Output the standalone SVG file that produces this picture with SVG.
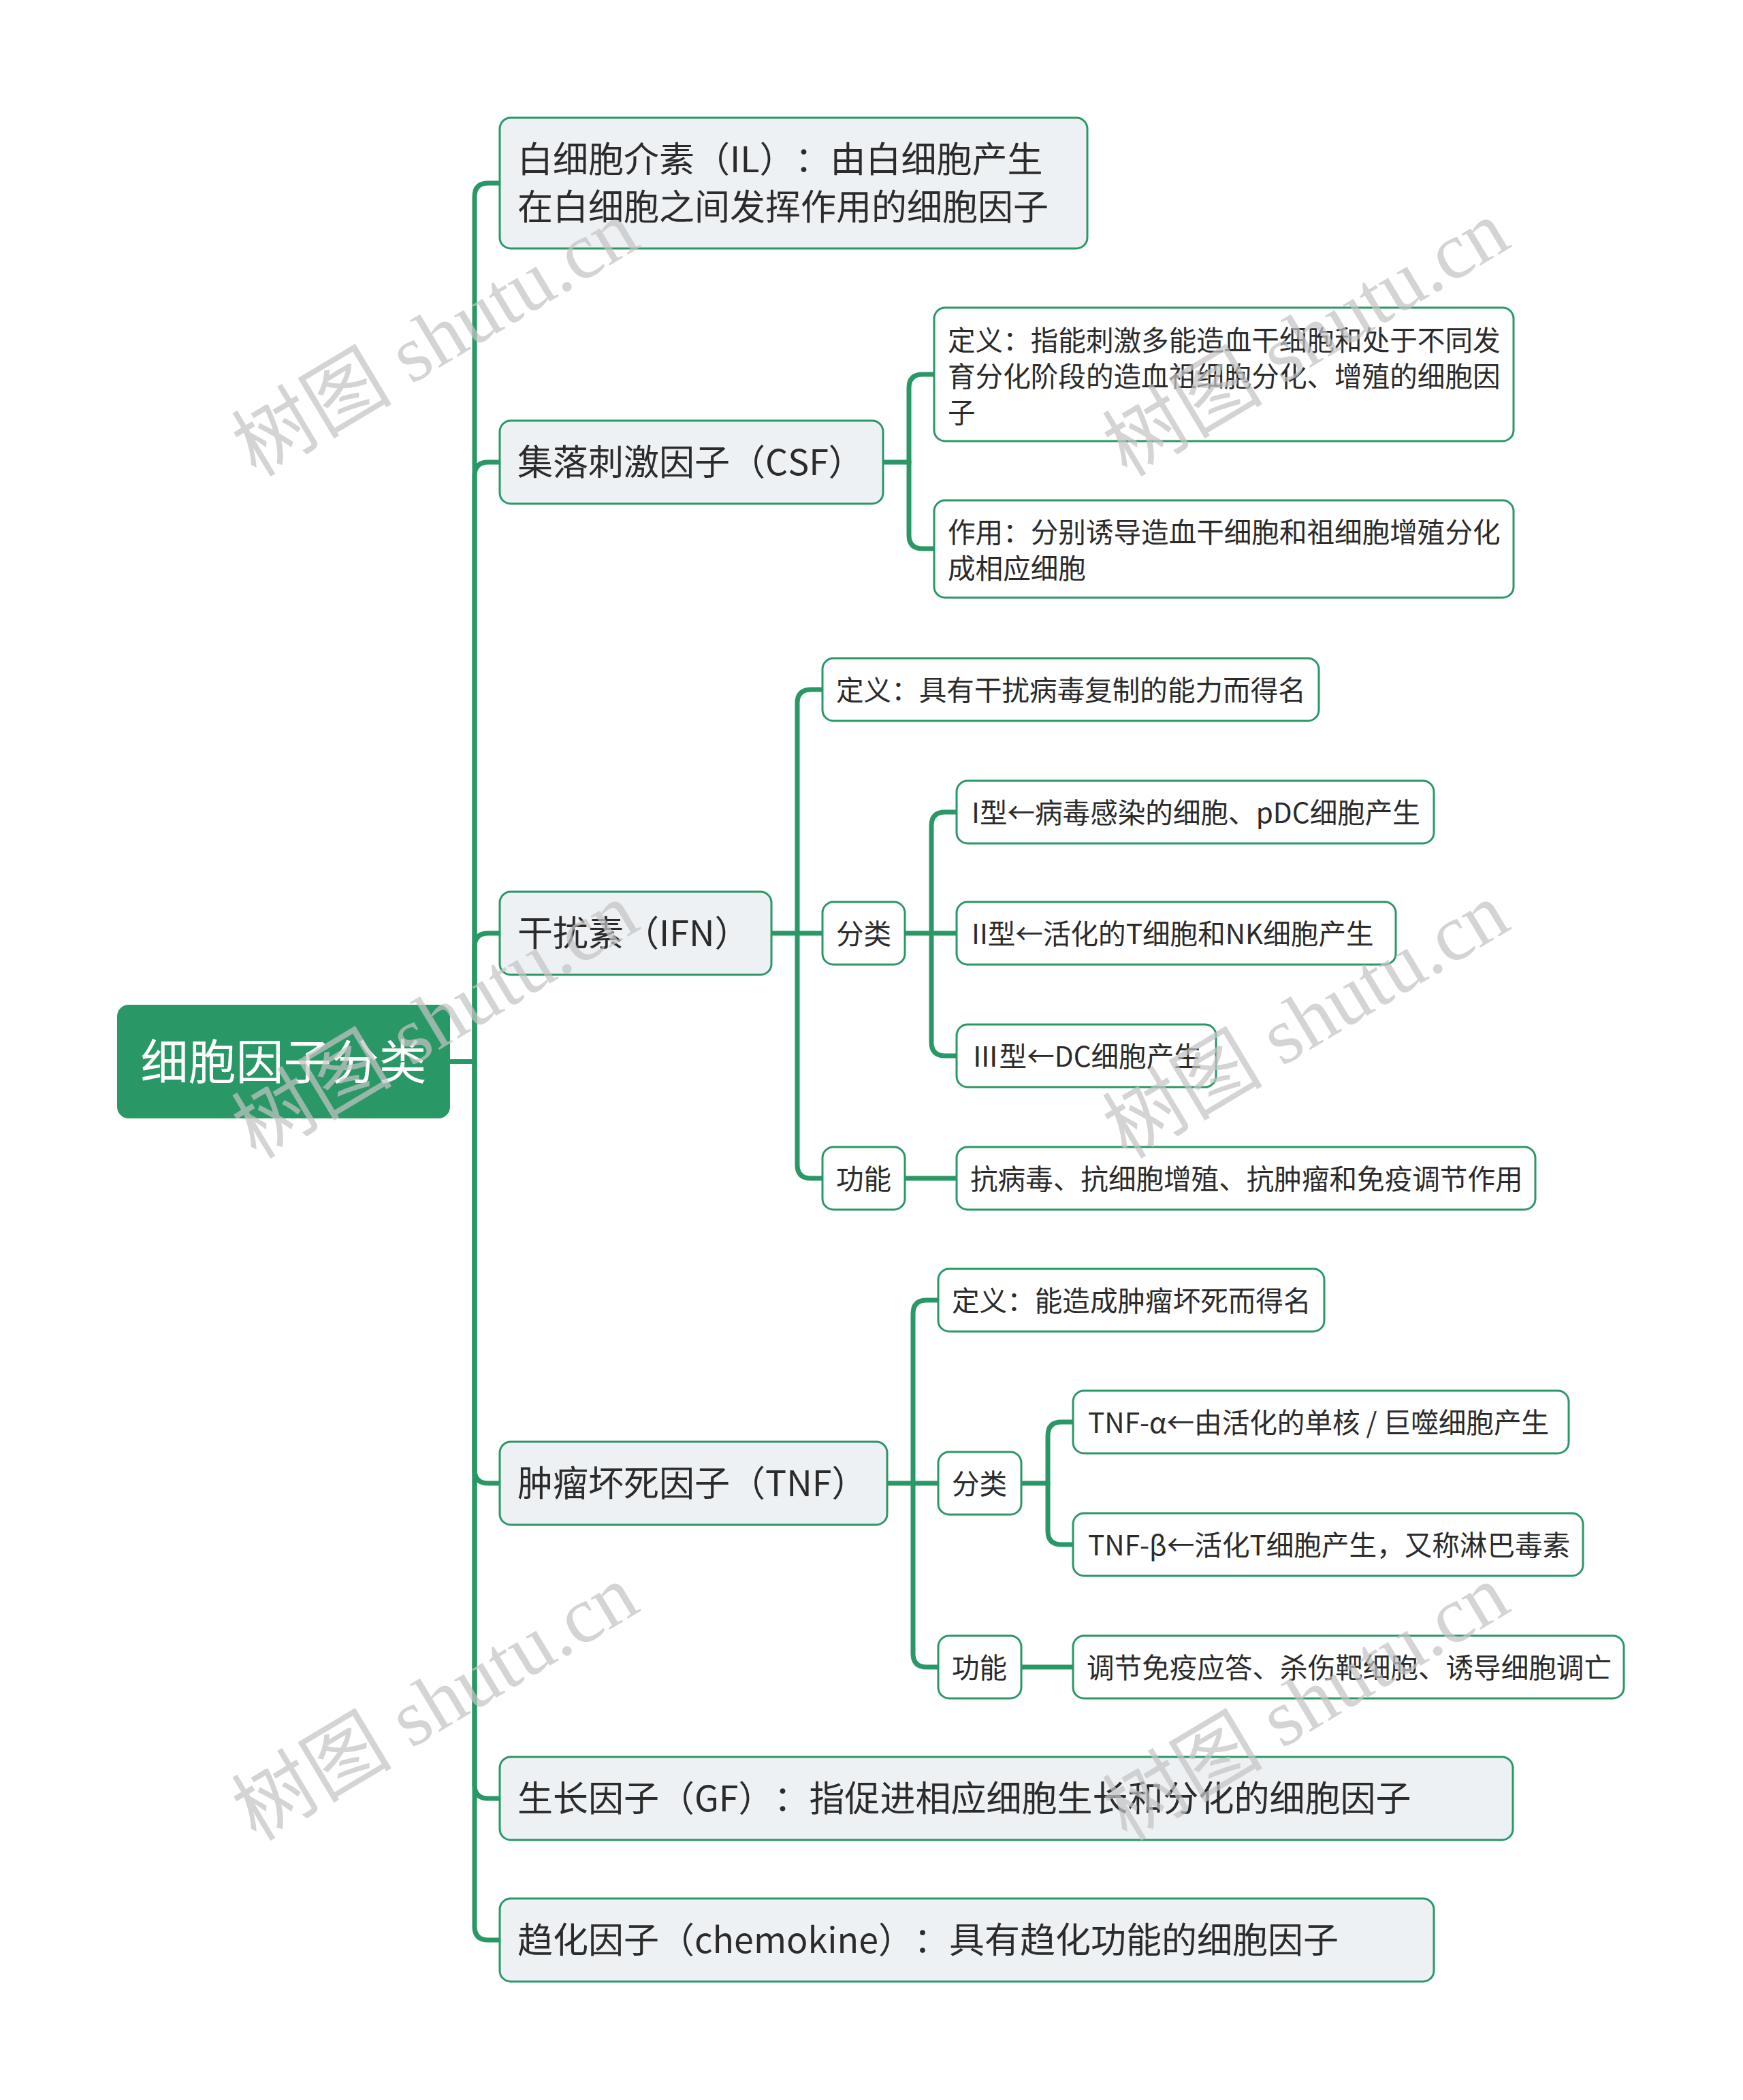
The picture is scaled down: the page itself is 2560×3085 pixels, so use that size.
<svg xmlns="http://www.w3.org/2000/svg" width="2560" height="3085" viewBox="0 0 2560 3085">
<style>
.bg{fill:#ffffff}
.main{fill:#eef1f4;stroke:#2a9866;stroke-width:3}
.sub{fill:#ffffff;stroke:#2a9866;stroke-width:3}
.root{fill:#2a9866;stroke:#2a9866;stroke-width:2}
.lnk{fill:none;stroke:#2a9866;stroke-width:7;stroke-linecap:round;stroke-linejoin:round}
text{font-family:"Noto Sans CJK SC","Noto Sans",sans-serif;dominant-baseline:central;text-spacing-trim:space-all;font-kerning:none}
.tm{font-size:52px;fill:#2b2b2b}
.ts{font-size:40.6px;fill:#2b2b2b}
.tr{font-size:70px;fill:#ffffff}
.wm{font-family:"Liberation Serif","Noto Sans CJK SC",serif;font-size:118px;fill:#c4c4c4;fill-opacity:0.72;dominant-baseline:alphabetic}
</style>
<rect class="bg" x="0" y="0" width="2560" height="3085"/>

<g id="connectors">
  <path class="lnk" d="M660 1559.5 H697"/>
  <path class="lnk" d="M697 1559.5 V289 Q697 269 717 269 H734"/>
  <path class="lnk" d="M697 1559.5 V699 Q697 679 717 679 H734"/>
  <path class="lnk" d="M697 1559.5 V1391 Q697 1371 717 1371 H734"/>
  <path class="lnk" d="M697 1559.5 V2159 Q697 2179 717 2179 H734"/>
  <path class="lnk" d="M697 1559.5 V2622 Q697 2642 717 2642 H734"/>
  <path class="lnk" d="M697 1559.5 V2830 Q697 2850 717 2850 H734"/>
  <path class="lnk" d="M1297 679 H1335"/>
  <path class="lnk" d="M1335 679 V570 Q1335 550 1355 550 H1372"/>
  <path class="lnk" d="M1335 679 V786 Q1335 806 1355 806 H1372"/>
  <path class="lnk" d="M1133 1371 H1171"/>
  <path class="lnk" d="M1171 1371 V1033 Q1171 1013 1191 1013 H1208"/>
  <path class="lnk" d="M1171 1371 H1208"/>
  <path class="lnk" d="M1171 1371 V1711 Q1171 1731 1191 1731 H1208"/>
  <path class="lnk" d="M1329 1371 H1368"/>
  <path class="lnk" d="M1368 1371 V1213 Q1368 1193 1388 1193 H1405"/>
  <path class="lnk" d="M1368 1371 H1405"/>
  <path class="lnk" d="M1368 1371 V1531 Q1368 1551 1388 1551 H1405"/>
  <path class="lnk" d="M1329 1731 H1405"/>
  <path class="lnk" d="M1303 2179 H1341"/>
  <path class="lnk" d="M1341 2179 V1930 Q1341 1910 1361 1910 H1378"/>
  <path class="lnk" d="M1341 2179 H1378"/>
  <path class="lnk" d="M1341 2179 V2429 Q1341 2449 1361 2449 H1378"/>
  <path class="lnk" d="M1500 2179 H1539"/>
  <path class="lnk" d="M1539 2179 V2109 Q1539 2089 1559 2089 H1576"/>
  <path class="lnk" d="M1539 2179 V2249 Q1539 2269 1559 2269 H1576"/>
  <path class="lnk" d="M1500 2449 H1576"/>
</g>

<g id="root">
  <rect class="root" x="173" y="1477" width="487" height="165" rx="16"/>
  <text class="tr" x="416.5" y="1555" text-anchor="middle">细胞因子分类</text>
</g>

<g id="n-il">
  <rect class="main" x="734" y="173" width="863" height="192" rx="16"/>
  <text class="tm" x="760" y="230">白细胞介素（IL）：由白细胞产生</text>
  <text class="tm" x="760" y="300">在白细胞之间发挥作用的细胞因子</text>
</g>

<g id="n-csf">
  <rect class="main" x="734" y="618" width="563" height="122" rx="16"/>
  <text class="tm" x="760" y="675">集落刺激因子（CSF）</text>
</g>
<g id="n-csf-def">
  <rect class="sub" x="1372" y="452" width="851" height="196" rx="16"/>
  <text class="ts" x="1392" y="497">定义：指能刺激多能造血干细胞和处于不同发</text>
  <text class="ts" x="1392" y="550">育分化阶段的造血祖细胞分化、增殖的细胞因</text>
  <text class="ts" x="1392" y="603">子</text>
</g>
<g id="n-csf-act">
  <rect class="sub" x="1372" y="735" width="851" height="143" rx="16"/>
  <text class="ts" x="1392" y="779">作用：分别诱导造血干细胞和祖细胞增殖分化</text>
  <text class="ts" x="1392" y="832">成相应细胞</text>
</g>

<g id="n-ifn">
  <rect class="main" x="734" y="1310" width="399" height="122" rx="16"/>
  <text class="tm" x="760" y="1367">干扰素（IFN）</text>
</g>
<g id="n-ifn-def">
  <rect class="sub" x="1208" y="967" width="729" height="92" rx="16"/>
  <text class="ts" x="1228" y="1011">定义：具有干扰病毒复制的能力而得名</text>
</g>
<g id="n-ifn-cls">
  <rect class="sub" x="1208" y="1325" width="121" height="92" rx="16"/>
  <text class="ts" x="1228" y="1369">分类</text>
</g>
<g id="n-ifn-1">
  <rect class="sub" x="1405" y="1147" width="701" height="92" rx="16"/>
  <text class="ts" x="1427" y="1191">I型←病毒感染的细胞、pDC细胞产生</text>
</g>
<g id="n-ifn-2">
  <rect class="sub" x="1405" y="1325" width="645" height="92" rx="16"/>
  <text class="ts" x="1427" y="1369">II型←活化的T细胞和NK细胞产生</text>
</g>
<g id="n-ifn-3">
  <rect class="sub" x="1405" y="1505" width="381" height="92" rx="16"/>
  <text class="ts" x="1427" y="1549">Ⅲ型←DC细胞产生</text>
</g>
<g id="n-ifn-fn">
  <rect class="sub" x="1208" y="1685" width="121" height="92" rx="16"/>
  <text class="ts" x="1228" y="1729">功能</text>
</g>
<g id="n-ifn-fn-1">
  <rect class="sub" x="1405" y="1685" width="850" height="92" rx="16"/>
  <text class="ts" x="1425" y="1729">抗病毒、抗细胞增殖、抗肿瘤和免疫调节作用</text>
</g>

<g id="n-tnf">
  <rect class="main" x="734" y="2118" width="569" height="122" rx="16"/>
  <text class="tm" x="760" y="2175">肿瘤坏死因子（TNF）</text>
</g>
<g id="n-tnf-def">
  <rect class="sub" x="1378" y="1864" width="567" height="92" rx="16"/>
  <text class="ts" x="1398" y="1908">定义：能造成肿瘤坏死而得名</text>
</g>
<g id="n-tnf-cls">
  <rect class="sub" x="1378" y="2133" width="122" height="92" rx="16"/>
  <text class="ts" x="1398" y="2177">分类</text>
</g>
<g id="n-tnf-a">
  <rect class="sub" x="1576" y="2043" width="728" height="92" rx="16"/>
  <text class="ts" x="1598" y="2087">TNF-α←由活化的单核 / 巨噬细胞产生</text>
</g>
<g id="n-tnf-b">
  <rect class="sub" x="1576" y="2223" width="749" height="92" rx="16"/>
  <text class="ts" x="1598" y="2267">TNF-β←活化T细胞产生，又称淋巴毒素</text>
</g>
<g id="n-tnf-fn">
  <rect class="sub" x="1378" y="2403" width="122" height="92" rx="16"/>
  <text class="ts" x="1398" y="2447">功能</text>
</g>
<g id="n-tnf-fn-1">
  <rect class="sub" x="1576" y="2403" width="809" height="92" rx="16"/>
  <text class="ts" x="1596" y="2447">调节免疫应答、杀伤靶细胞、诱导细胞调亡</text>
</g>

<g id="n-gf">
  <rect class="main" x="734" y="2581" width="1488" height="122" rx="16"/>
  <text class="tm" x="760" y="2638">生长因子（GF）：指促进相应细胞生长和分化的细胞因子</text>
</g>
<g id="n-chemo">
  <rect class="main" x="734" y="2789" width="1372" height="122" rx="16"/>
  <text class="tm" x="760" y="2846">趋化因子（chemokine）：具有趋化功能的细胞因子</text>
</g>

<g id="watermark">
  <text class="wm" transform="translate(376 702) rotate(-31)">树图 shutu.cn</text>
  <text class="wm" transform="translate(1655 702) rotate(-31)">树图 shutu.cn</text>
  <text class="wm" transform="translate(376 1704) rotate(-31)">树图 shutu.cn</text>
  <text class="wm" transform="translate(1655 1704) rotate(-31)">树图 shutu.cn</text>
  <text class="wm" transform="translate(376 2706) rotate(-31)">树图 shutu.cn</text>
  <text class="wm" transform="translate(1655 2706) rotate(-31)">树图 shutu.cn</text>
</g>
</svg>
